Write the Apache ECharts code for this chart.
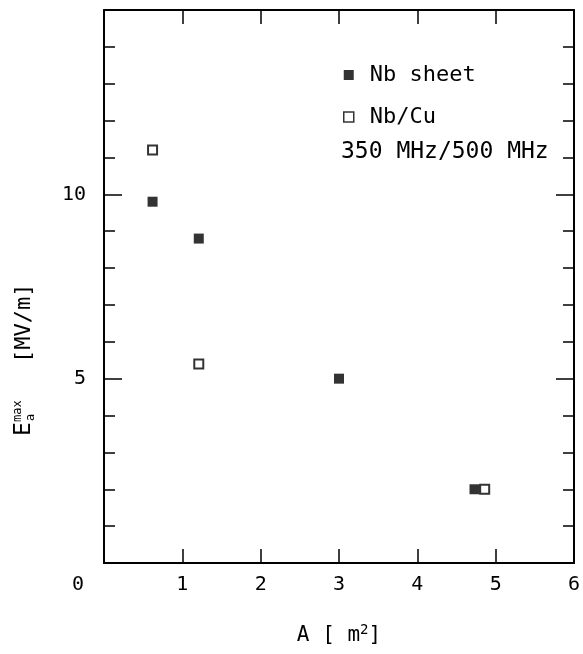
<!DOCTYPE html>
<html>
<head>
<meta charset="utf-8">
<script src="https://cdn.jsdelivr.net/npm/echarts@6/dist/echarts.min.js"></script>
<style>
  html, body { margin: 0; padding: 0; background: #fff; }
  #chart { width: 583px; height: 654px; }
</style>
</head>
<body>
<div id="chart"></div>
<script>
// values
const nbSheetA = [0.62, 1.21, 3.0, 4.73]
const nbSheetE = [9.8, 8.8, 5.0, 2.0]
const nbCuA = [0.62, 1.21, 4.86]
const nbCuE = [11.2, 5.4, 2.0]
const xTicks = [1, 2, 3, 4, 5, 6]
const yTicks = [5, 10]

const font = 'DejaVu Sans Mono'
const ink = '#000'

function pairs(xs, ys) {
  return xs.map((x, i) => [x, ys[i]])
}

let myChart = echarts.init(document.getElementById('chart'))

let boxX = {
  min: 0, max: 6, interval: 1,
  axisLine: { show: true, onZero: false, lineStyle: { color: ink, width: 2 } },
  axisTick: { show: true, inside: true, length: 14, lineStyle: { color: ink, width: 1.5 } },
  splitLine: { show: false }
}
let boxY = {
  min: 0, max: 15, interval: 5,
  axisLine: { show: true, onZero: false, lineStyle: { color: ink, width: 2 } },
  axisTick: { show: true, inside: true, length: 18, lineStyle: { color: ink, width: 1.5 } },
  minorTick: { show: true, splitNumber: 5, length: 11, lineStyle: { color: ink, width: 1.5 } },
  splitLine: { show: false }
}

let options = {
  backgroundColor: '#fff',
  animation: false,
  grid: { left: 104, right: 6, top: 10, bottom: 71 },
  title: {
    text: '350 MHz/500 MHz',
    left: 336, top: 136,
    textStyle: { fontFamily: font, fontSize: 23, fontWeight: 'normal', color: ink }
  },
  legend: {
    orient: 'vertical',
    left: 338, top: 59,
    itemWidth: 10, itemHeight: 10, itemGap: 20,
    textStyle: { fontFamily: font, fontSize: 22, color: ink, padding: [0, 0, 0, 11] },
    data: [
      { name: 'Nb sheet', icon: 'rect', itemStyle: { color: ink, borderWidth: 0 } },
      { name: 'Nb/Cu', icon: 'rect', itemStyle: { color: '#fff', borderColor: ink, borderWidth: 1.5 } }
    ]
  },
  xAxis: [
    Object.assign({}, boxX, {
      type: 'value', position: 'bottom',
      name: 'A [ m{sup|2}]',
      nameLocation: 'middle', nameGap: 60,
      nameTextStyle: {
        fontFamily: font, fontSize: 21, color: ink, lineHeight: 26,
        rich: { sup: { fontFamily: font, fontSize: 14, color: ink, verticalAlign: 'top', lineHeight: 14 } }
      },
      axisLabel: {
        show: true, margin: 12, fontFamily: font, fontSize: 20, color: ink,
        formatter: v => (v === 0 ? '{z|0}' : (xTicks.indexOf(v) >= 0 ? String(v) : '')),
        rich: { z: { fontFamily: font, fontSize: 20, color: ink, padding: [0, 52, 0, 0] } }
      }
    }),
    Object.assign({}, boxX, { type: 'value', position: 'top', axisLabel: { show: false } })
  ],
  yAxis: [
    Object.assign({}, boxY, {
      type: 'value', position: 'left',
      axisLabel: {
        show: true, margin: 18, fontFamily: font, fontSize: 20, color: ink,
        formatter: v => (yTicks.indexOf(v) >= 0 ? String(v) : '')
      }
    }),
    Object.assign({}, boxY, { type: 'value', position: 'right', axisLabel: { show: false } })
  ],
  graphic: [
    {
      // y axis title, written bottom to top
      type: 'group', x: 24, y: 436, rotation: Math.PI / 2,
      children: [
        { type: 'text', x: 0, y: 0, style: { text: 'E', fontFamily: font, fontSize: 23, fill: ink, verticalAlign: 'middle' } },
        { type: 'text', x: 14, y: -6, style: { text: 'max', fontFamily: font, fontSize: 12, fill: ink, verticalAlign: 'middle' } },
        { type: 'text', x: 15, y: 7, style: { text: 'a', fontFamily: font, fontSize: 12, fill: ink, verticalAlign: 'middle' } },
        { type: 'text', x: 73, y: 0, style: { text: '[MV/m]', fontFamily: font, fontSize: 22, fill: ink, verticalAlign: 'middle' } }
      ]
    }
  ],
  series: [
    {
      name: 'Nb sheet', type: 'scatter',
      symbol: 'rect', symbolSize: 10,
      itemStyle: { color: ink },
      data: pairs(nbSheetA, nbSheetE)
    },
    {
      name: 'Nb/Cu', type: 'scatter',
      symbol: 'rect', symbolSize: 9,
      itemStyle: { color: '#fff', borderColor: ink, borderWidth: 2 },
      data: pairs(nbCuA, nbCuE)
    }
  ]
}
myChart.setOption(options)
</script>
</body>
</html>
